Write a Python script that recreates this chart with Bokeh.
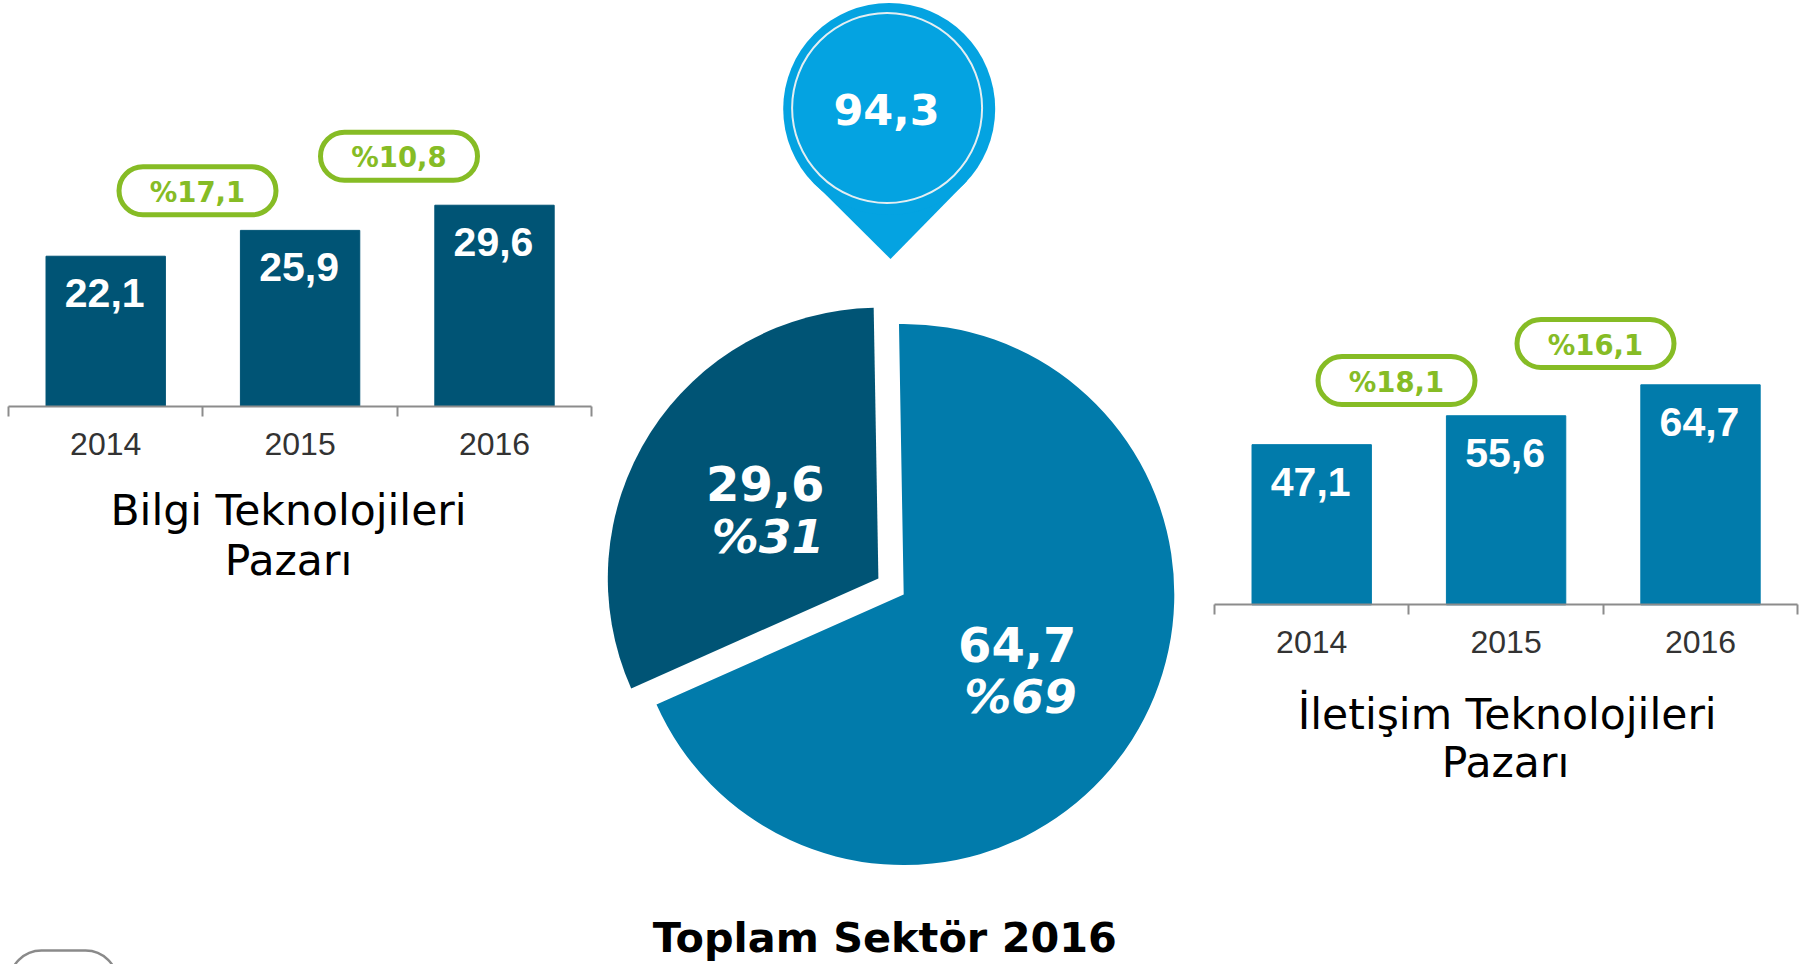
from bokeh.plotting import figure
from bokeh.layouts import row
from bokeh.models import Range1d, FixedTicker, ColumnDataSource, Label
from bokeh.core.properties import value
from bokeh.embed import file_html
from bokeh.resources import INLINE
import numpy as np

# ---- data
years = ["2014", "2015", "2016"]
it_values = [22.1, 25.9, 29.6]
it_growth = ["%17,1", "%10,8"]
ict_values = [47.1, 55.6, 64.7]
ict_growth = ["%18,1", "%16,1"]
share_values = [64.7, 29.6]
share_value_labels = ["64,7", "29,6"]
share_pct_labels = ["%69", "%31"]
total_label = "94,3"
title_it = ["Bilgi Teknolojileri", "Pazarı"]
title_ict = ["İletişim Teknolojileri", "Pazarı"]
title_total = "Toplam Sektör 2016"

# ---- styles
DARK = "#005475"
BLUE = "#017BAB"
PIN = "#04A3E1"
GREEN = "#86BC25"
AXIS = "#8C8C8C"
TICK = "#333333"
W, H = 1802, 964
SANS = value("DejaVu Sans")
ARIAL = value("Liberation Sans")


def bar_panel(left, right, axis_x, axis_y, px_per_cat, px_per_unit, vals, color, growth, pills, titles, title_xs, title_ys):
    x_range = Range1d((left - axis_x) / px_per_cat, (right - axis_x) / px_per_cat)
    y_range = Range1d((axis_y - H) / px_per_unit, axis_y / px_per_unit)
    p = figure(width=right - left, height=H, x_range=x_range, y_range=y_range,
               output_backend="svg", toolbar_location=None, min_border=0,
               y_axis_location=None, outline_line_color=None)
    p.grid.visible = False
    xs = [i + 0.5 for i in range(len(years))]
    src = ColumnDataSource(dict(x=xs, top=vals, label=[f"{v:.1f}".replace(".", ",") for v in vals]))
    p.vbar(x="x", top="top", bottom=0, width=0.614, color=color, source=src)
    p.text(x="x", y="top", text="label", source=src, y_offset=37, x_offset=-1, text_align="center",
           text_baseline="alphabetic", text_color="white", text_font=ARIAL,
           text_font_style="bold", text_font_size="41px")
    ax = p.xaxis[0]
    ax.fixed_location = 0
    ax.bounds = (0, len(years))
    ax.ticker = FixedTicker(ticks=xs, minor_ticks=list(range(len(years) + 1)))
    ax.major_label_overrides = {x: y for x, y in zip(xs, years)}
    ax.axis_line_color = AXIS
    ax.axis_line_width = 2
    ax.major_tick_line_color = None
    ax.major_tick_in = 0
    ax.major_tick_out = 0
    ax.minor_tick_line_color = AXIS
    ax.minor_tick_line_width = 2
    ax.minor_tick_in = 0
    ax.minor_tick_out = 10
    ax.major_label_text_font = "Liberation Sans"
    ax.major_label_text_font_size = "32px"
    ax.major_label_text_color = TICK
    ax.major_label_standoff = 16
    # growth pills
    pw, ph = 157, 48
    for txt, (cx, cy) in zip(growth, pills):
        dx, dy = cx - axis_x, axis_y - cy
        p.quad(left=(dx - pw / 2) / px_per_cat, right=(dx + pw / 2) / px_per_cat,
               bottom=(dy - ph / 2) / px_per_unit, top=(dy + ph / 2) / px_per_unit,
               fill_color="white", line_color=GREEN, line_width=5, border_radius=24)
        p.text(x=[dx / px_per_cat], y=[(dy - 1) / px_per_unit], text=[txt], text_align="center",
               text_baseline="alphabetic", text_color=GREEN, text_font=SANS,
               text_font_style="bold", text_font_size="27.5px")
    for t, tx, ty in zip(titles, title_xs, title_ys):
        p.add_layout(Label(x=tx - left, y=H - ty, x_units="screen", y_units="screen", text=t,
                           text_align="center", text_baseline="alphabetic", text_color="black",
                           text_font="DejaVu Sans", text_font_size="42.5px"))
    return p


left = bar_panel(0, 600, 8, 406, 194.4, 6.8, it_values, DARK, it_growth,
                 [(197, 190.3), (398.5, 155.8)], title_it, [288, 288], [510, 560])
# rounded outline cut off by the bottom of the page
left.quad(left=(9 - 8) / 194.4, right=(117 - 8) / 194.4, bottom=(406 - 1040) / 6.8, top=(406 - 950) / 6.8,
          fill_color=None, line_color="#8A8A8A", line_width=2.5, border_radius=32)

right = bar_panel(1190, W, 1214, 604.3, 194.4, 3.4, ict_values, BLUE, ict_growth,
                  [(1396, 380), (1595, 343)], title_ict, [1506.7, 1505], [713.7, 762])

# ---- centre: pie and pin (x, y are page pixels, y turned upward)
mid = figure(width=590, height=H, x_range=Range1d(600, 1190), y_range=Range1d(0, H),
             output_backend="svg", toolbar_location=None, min_border=0,
             x_axis_location=None, y_axis_location=None, outline_line_color=None)
mid.grid.visible = False

shares = np.array(share_values) / sum(share_values) * 2 * np.pi
first = np.deg2rad(91)
cx, cy, R = 903.2, H - 594, 270.6
ends = first - np.cumsum(shares)
starts = np.concatenate([[first], ends[:-1]])
bisect = (starts[1] + ends[1]) / 2
offs = [(0, 0), (30 * np.cos(bisect), 30 * np.sin(bisect))]
for i, col in enumerate([BLUE, DARK]):
    mid.wedge(x=cx + offs[i][0], y=cy + offs[i][1], radius=R, start_angle=starts[i], end_angle=ends[i],
              direction="clock", fill_color=col, line_color=None)

label_pos = [((1016.7, 643.5), (1020, 696)), ((764.7, 482.7), (767.5, 536))]
for (vpos, ppos), vtxt, ptxt in zip(label_pos, share_value_labels, share_pct_labels):
    mid.text(x=[vpos[0]], y=[H - vpos[1]], text=[vtxt], text_align="center", text_baseline="alphabetic",
             text_color="white", text_font=SANS, text_font_style="bold", text_font_size="48px")
    mid.text(x=[ppos[0]], y=[H - ppos[1]], text=[ptxt], text_align="center", text_baseline="alphabetic",
             text_color="white", text_font=SANS, text_font_style="bold italic", text_font_size="47px")

pin_x, pin_y, pin_r = 888.7, H - 108.5, 106
mid.patch(x=[811, 890, 967], y=[H - 180, H - 258.5, H - 180], fill_color=PIN, line_color=None)
mid.circle(x=[pin_x], y=[pin_y], radius=pin_r, fill_color=PIN, line_color=None)
mid.circle(x=[886.6], y=[H - 107.5], radius=95, fill_color=None, line_color="#E4EEF2", line_width=2)
mid.text(x=[886], y=[H - 109], text=[total_label], text_align="center", text_baseline="alphabetic",
         text_color="white", text_font=SANS, text_font_style="bold", text_font_size="43px")
mid.text(x=[884.3], y=[H - 937], text=[title_total], text_align="center", text_baseline="alphabetic",
         text_color="black", text_font=SANS, text_font_style="bold", text_font_size="41.4px")

page = row(left, mid, right, spacing=0,
           styles={"position": "absolute", "left": "0px", "top": "0px"})
open("out.html", "w").write(file_html(page, INLINE))
